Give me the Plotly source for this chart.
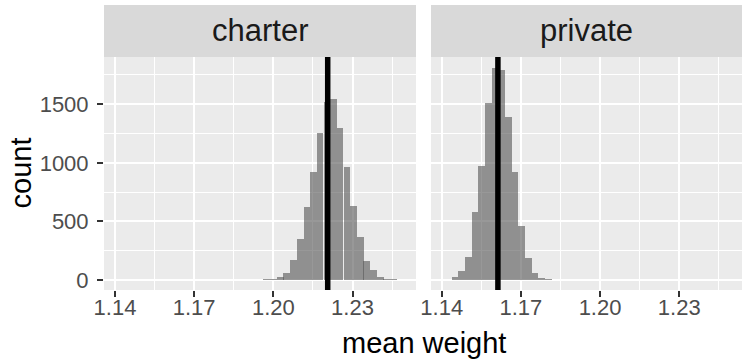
import plotly.graph_objects as go

# ---- data ----
panels = ["charter", "private"]
bin_width = 0.00253

charter_bins = [1.1950, 1.1975, 1.2000, 1.2026, 1.2051, 1.2076, 1.2102, 1.2127,
                1.2152, 1.2177, 1.2203, 1.2228, 1.2253, 1.2279, 1.2304, 1.2329,
                1.2354, 1.2380, 1.2405, 1.2430, 1.2455, 1.2481]
charter_counts = [3, 8, 11, 23, 57, 171, 347, 620, 924, 1252, 1521, 1542,
                  1300, 962, 631, 370, 165, 85, 28, 11, 6, 2]

private_bins = [1.1425, 1.1450, 1.1476, 1.1501, 1.1526, 1.1552, 1.1577, 1.1602,
                1.1627, 1.1653, 1.1678, 1.1703, 1.1729, 1.1754, 1.1779, 1.1804]
private_counts = [2, 28, 77, 193, 578, 973, 1508, 1806, 1792, 1388, 924, 464,
                  185, 57, 14, 6]

charter_mean = 1.2206
private_mean = 1.1613

x_ticks = [1.14, 1.17, 1.20, 1.23]
x_ticklabels = ["1.14", "1.17", "1.20", "1.23"]
y_ticks = [0, 500, 1000, 1500]
y_ticklabels = ["0", "500", "1000", "1500"]

# ---- layout geometry ----
W, H = 742, 361
FONT = "Liberation Sans"
bar_fill = "rgba(89,89,89,0.62)"

fig = go.Figure()
fig.add_trace(go.Bar(x=charter_bins, y=charter_counts, width=bin_width,
                     marker=dict(color=bar_fill, line=dict(width=0)),
                     xaxis="x", yaxis="y", showlegend=False))
fig.add_trace(go.Bar(x=private_bins, y=private_counts, width=bin_width,
                     marker=dict(color=bar_fill, line=dict(width=0)),
                     xaxis="x2", yaxis="y2", showlegend=False))

px_per_unit = 2639.0
c_left, c_right = 104, 416
p_left, p_right = 431, 742
y_top, y_bot = 57, 290

xr1 = [1.14 - (115 - c_left) / px_per_unit, 1.14 + (c_right - 115) / px_per_unit]
xr2 = [1.14 - (441.7 - p_left) / px_per_unit, 1.14 + (p_right - 441.7) / px_per_unit]
px_per_count = 0.1172
yr = [-(y_bot - 280) / px_per_count, (280 - y_top) / px_per_count]

ydom = [(H - y_bot) / H, (H - y_top) / H]

common_x = dict(
    tickmode="array", tickvals=x_ticks, ticktext=x_ticklabels,
    ticks="outside", ticklen=6, tickwidth=2, tickcolor="#333333",
    tickfont=dict(family=FONT, size=22, color="#4d4d4d"),
    ticklabelstandoff=-8,
    showgrid=True, gridcolor="white", gridwidth=2,
    minor=dict(tickvals=[1.155, 1.185, 1.215, 1.245], showgrid=True,
               gridcolor="white", gridwidth=1, ticks=""),
    zeroline=False, showline=False, automargin=False,
)
common_y = dict(
    range=yr, domain=ydom,
    showgrid=True, gridcolor="white", gridwidth=2,
    minor=dict(tickvals=[250, 750, 1250, 1750], showgrid=True,
               gridcolor="white", gridwidth=1, ticks=""),
    zeroline=False, showline=False, automargin=False,
)

fig.update_layout(
    width=W, height=H,
    margin=dict(l=0, r=0, t=0, b=0, pad=0, autoexpand=False),
    paper_bgcolor="white", plot_bgcolor="#ebebeb",
    bargap=0,
    xaxis=dict(common_x, range=xr1, domain=[c_left / W, c_right / W], anchor="y"),
    xaxis2=dict(common_x, range=xr2, domain=[p_left / W, p_right / W], anchor="y2"),
    yaxis=dict(common_y, anchor="x", tickmode="array", tickvals=y_ticks,
               ticktext=y_ticklabels, ticks="outside", ticklen=6, tickwidth=2,
               tickcolor="#333333", ticklabelstandoff=4,
               tickfont=dict(family=FONT, size=22, color="#4d4d4d")),
    yaxis2=dict(common_y, anchor="x2", tickmode="array", tickvals=y_ticks,
                showticklabels=False, ticks=""),
)

# mean lines
for xa, ya, m in [("x", "y", charter_mean), ("x2", "y2", private_mean)]:
    fig.add_shape(type="line", xref=xa, yref=ya + " domain", x0=m, x1=m,
                  y0=0, y1=1, line=dict(color="black", width=5.5))

# facet strips
for name, l, r in [(panels[0], c_left, c_right), (panels[1], p_left, p_right)]:
    fig.add_shape(type="rect", xref="paper", yref="paper",
                  x0=l / W, x1=r / W, y0=(H - y_top) / H, y1=(H - 5) / H,
                  fillcolor="#d9d9d9", line=dict(width=0), layer="below")
    fig.add_annotation(text=name, xref="paper", yref="paper",
                       x=(l + r) / 2 / W, y=(H - 31) / H, showarrow=False,
                       xanchor="center", yanchor="middle",
                       font=dict(family=FONT, size=31, color="#1a1a1a"))

# axis titles
fig.add_annotation(text="mean weight", xref="paper", yref="paper",
                   x=(c_left + 743) / 2 / W, y=(H - 343) / H, showarrow=False,
                   xanchor="center", yanchor="middle",
                   font=dict(family=FONT, size=29, color="black"))
fig.add_annotation(text="count", xref="paper", yref="paper",
                   x=20 / W, y=(H - (y_top + y_bot) / 2) / H, showarrow=False,
                   textangle=-90, xanchor="center", yanchor="middle",
                   font=dict(family=FONT, size=29, color="black"))

fig.write_html("out.html")
